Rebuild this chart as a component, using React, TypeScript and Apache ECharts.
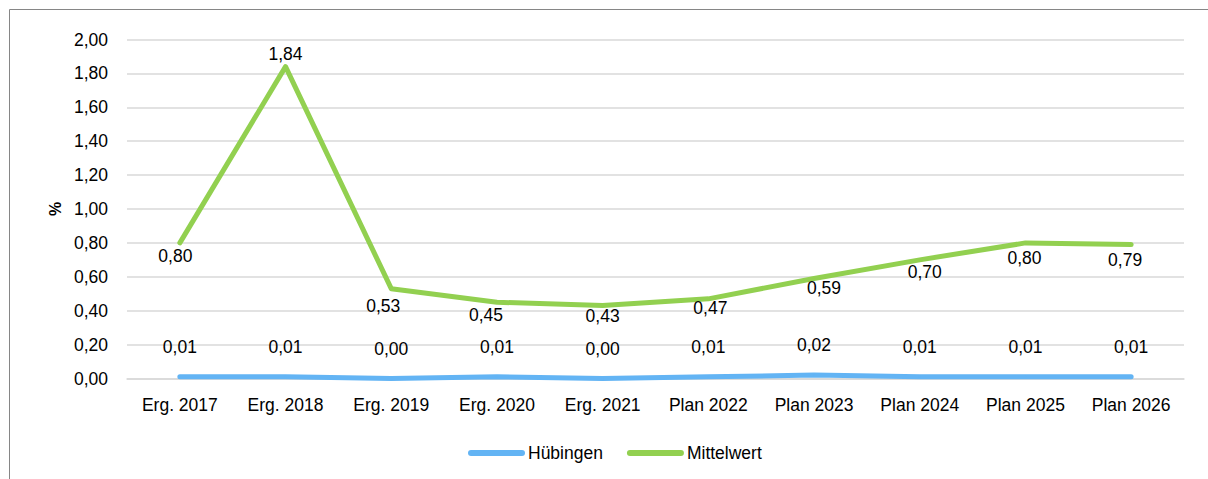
import React, { useEffect, useRef } from "react";
import * as echarts from "echarts";

const categories = [
  "Erg. 2017", "Erg. 2018", "Erg. 2019", "Erg. 2020", "Erg. 2021",
  "Plan 2022", "Plan 2023", "Plan 2024", "Plan 2025", "Plan 2026",
];
const huebingen = [0.01, 0.01, 0.0, 0.01, 0.0, 0.01, 0.02, 0.01, 0.01, 0.01];
const mittelwert = [0.8, 1.84, 0.53, 0.45, 0.43, 0.47, 0.59, 0.7, 0.8, 0.79];
const yTicks = { min: 0, max: 2, interval: 0.2 };

// label placement (offset from point, px)
const mwLabelOffsets: [number, number][] = [
  [-4.5, 13], [0, -13], [-8, 17], [-11, 13], [0, 10.5],
  [2, 8.7], [10, 10], [5, 12.6], [-1, 14.6], [-6, 15],
];

const FONT = "'Liberation Sans', Arial, sans-serif";
const FS = 17.5;
const fmt = (v: number) => v.toFixed(2).replace(".", ",");

export default function App() {
  const ref = useRef<HTMLDivElement>(null);
  useEffect(() => {
    if (!ref.current) return;
    const chart = echarts.init(ref.current, undefined, { renderer: "svg" });
    chart.setOption({
      animation: false,
      backgroundColor: "#ffffff",
      textStyle: { fontFamily: FONT },
      graphic: [
        {
          type: "rect",
          shape: { x: 9.5, y: 9.5, width: 1400, height: 700 },
          style: { fill: "none", stroke: "#868686", lineWidth: 1 },
          silent: true,
        },
      ],
      grid: { left: 127, right: 24, top: 39.5, bottom: 100.5, containLabel: false },
      legend: {
        left: 468,
        top: 444,
        padding: 0,
        itemWidth: 57,
        itemHeight: 6,
        itemGap: 24,
        icon: "path://M3,0 L54,0 A3,3 0 0 1 54,6 L3,6 A3,3 0 0 1 3,0 Z",
        textStyle: { fontFamily: FONT, fontSize: FS, color: "#000", padding: [0, 0, 0, -2] },
        data: ["Hübingen", "Mittelwert"],
      },
      xAxis: {
        type: "category",
        data: categories,
        boundaryGap: true,
        axisLine: { show: true, lineStyle: { color: "#d9d9d9", width: 1.5 } },
        axisTick: { show: false },
        axisLabel: { fontFamily: FONT, fontSize: FS, color: "#000", margin: 17, interval: 0 },
      },
      yAxis: {
        type: "value",
        min: yTicks.min,
        max: yTicks.max,
        interval: yTicks.interval,
        name: "%",
        nameLocation: "middle",
        nameGap: 64,
        nameRotate: 90,
        nameTextStyle: { fontFamily: FONT, fontSize: 16, fontWeight: "bold", color: "#000" },
        axisLine: { show: false },
        axisTick: { show: false },
        splitLine: { lineStyle: { color: "#d9d9d9", width: 1.5 } },
        axisLabel: {
          fontFamily: FONT, fontSize: FS, color: "#000", margin: 19,
          formatter: (v: number) => fmt(v),
        },
      },
      series: [
        {
          name: "Hübingen",
          type: "line",
          data: huebingen,
          symbol: "circle",
          symbolSize: 2,
          showSymbol: true,
          color: "#63b4f4",
          itemStyle: { color: "#63b4f4" },
          lineStyle: { color: "#63b4f4", width: 5, cap: "round", join: "round" },
          label: {
            show: true,
            position: "inside",
            offset: [0, -30],
            fontFamily: FONT,
            fontSize: FS,
            color: "#000",
            formatter: (p: any) => fmt(p.value),
          },
          z: 2,
        },
        {
          name: "Mittelwert",
          type: "line",
          data: mittelwert.map((v, i) => ({
            value: v,
            label: { offset: mwLabelOffsets[i] },
          })),
          symbol: "circle",
          symbolSize: 2,
          showSymbol: true,
          color: "#92d050",
          itemStyle: { color: "#92d050" },
          lineStyle: { color: "#92d050", width: 5, cap: "round", join: "round" },
          label: {
            show: true,
            position: "inside",
            fontFamily: FONT,
            fontSize: FS,
            color: "#000",
            formatter: (p: any) => fmt(p.value),
          },
          z: 3,
        },
      ],
    });
    return () => chart.dispose();
  }, []);
  return (
    <div
      ref={ref}
      style={{ position: "fixed", left: 0, top: 0, width: 1208, height: 479, background: "#fff" }}
    />
  );
}
